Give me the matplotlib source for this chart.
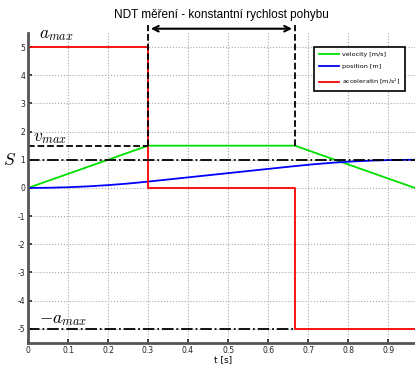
import matplotlib
matplotlib.use('Agg')
import matplotlib.pyplot as plt

plt.rcParams['mathtext.fontset'] = 'cm'
plt.rcParams['axes.unicode_minus'] = False

# profile
t_acc = [0, 0.3, 0.3, 0.667, 0.667, 0.967]
acc = [5, 5, 0, 0, -5, -5]

t_vel = [0, 0.3, 0.667, 0.967]
vel = [0, 1.5, 1.5, 0]

t_pos = [0, 0.05, 0.1, 0.15, 0.2, 0.25, 0.3, 0.4, 0.5, 0.6, 0.667,
         0.717, 0.767, 0.817, 0.867, 0.917, 0.967]
pos = [0, 0.006, 0.025, 0.056, 0.1, 0.156, 0.225, 0.375, 0.525, 0.675, 0.775,
       0.844, 0.9, 0.944, 0.975, 0.994, 1.0]

t_switch = [0.3, 0.667]
v_max = 1.5
s_dist = 1.0
a_max = 5

fig = plt.figure(figsize=(4.15, 3.66), dpi=100)
ax = fig.add_axes([0.0675, 0.063, 0.94, 0.847])

ax.plot(t_vel, vel, color='#00e000', lw=1.3, label='velocity [m/s]')
ax.plot(t_pos, pos, color='#0000ff', lw=1.3, label='position [m]')
ax.plot(t_acc, acc, color='#ff0000', lw=1.3, label='acceleratin [m/s$^2$]')

# guide lines
ax.plot([0, t_switch[0]], [v_max, v_max], 'k--', lw=1.3)
ax.plot([0, 0.975], [s_dist, s_dist], 'k-.', lw=1.3)
ax.plot([0, t_switch[1]], [-a_max, -a_max], 'k-.', lw=1.3)
for ts in t_switch:
    ax.plot([ts, ts], [v_max, 5.78], 'k--', lw=1.3, clip_on=False)

ax.annotate('', xy=(t_switch[0], 5.65), xytext=(t_switch[1], 5.65),
            arrowprops=dict(arrowstyle='<->', lw=1.5, color='k'),
            annotation_clip=False)
ax.text(sum(t_switch) / 2, 6.15, 'NDT měření - konstantní rychlost pohybu',
        ha='center', va='center', fontsize=8.5, family='Liberation Sans')

ax.text(0.028, 5.45, '$a_{max}$', fontsize=12.5, va='center')
ax.text(0.012, 1.8, '$v_{max}$', fontsize=12.5, va='center')
ax.text(-0.046, 1.0, '$S$', fontsize=12.5, va='center', ha='center')
ax.text(0.028, -4.65, '$-a_{max}$', fontsize=12.5, va='center')

ax.set_xlim(0, 0.975)
ax.set_ylim(-5.5, 5.5)
ax.set_xticks([0, 0.1, 0.2, 0.3, 0.4, 0.5, 0.6, 0.7, 0.8, 0.9])
ax.set_xticklabels(['0', '0.1', '0.2', '0.3', '0.4', '0.5', '0.6', '0.7', '0.8', '0.9'])
ax.set_yticks(range(-5, 6))
ax.tick_params(labelsize=5.5, direction='in', length=3, width=1.2,
               colors='#222222', pad=2)
ax.set_xlabel('t [s]', fontsize=6.5, labelpad=0)
ax.grid(True, ls=':', color='#aaaaaa', lw=0.8)
for side in ['top', 'right']:
    ax.spines[side].set_visible(False)
for side in ['left', 'bottom']:
    ax.spines[side].set_linewidth(2)
    ax.spines[side].set_color('#555555')

leg = ax.legend(loc='upper right', bbox_to_anchor=(0.975, 0.965), fontsize=4.6,
                fancybox=False, framealpha=1, edgecolor='k', handlelength=3.2,
                handletextpad=0.5, borderpad=0.7, labelspacing=1.1)
leg.get_frame().set_linewidth(1.2)

fig.savefig('out.png', dpi=100)
